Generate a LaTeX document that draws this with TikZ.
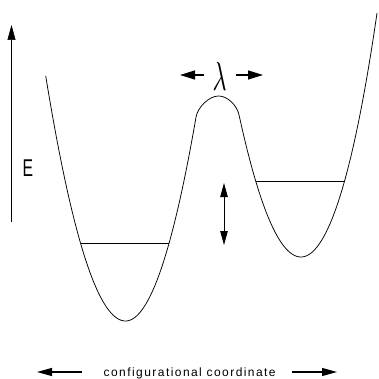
\documentclass[tikz,border=0pt]{standalone}
\usepackage{fontspec}
\usepackage{graphicx}
\setmainfont{Liberation Sans}
\usetikzlibrary{arrows.meta}
\tikzset{
  curve/.style={line width=0.75pt, line join=round},
  level/.style={line width=0.75pt},
  axis/.style={line width=0.6pt, -{Triangle[length=15pt,width=8pt]}},
  lamarrow/.style={line width=1.2pt, -{Triangle[length=15pt,width=9pt]}},
  botarrow/.style={line width=1.1pt, -{Triangle[length=15pt,width=8pt]}},
  dblarrow/.style={line width=0.8pt, {Triangle[length=14pt,width=7.5pt]}-{Triangle[length=14pt,width=7.5pt]}},
}
\begin{document}
\begin{tikzpicture}[x=1pt,y=-1pt]
\useasboundingbox (0,0) rectangle (378,379);
% potential curve
\draw[curve]
  plot[domain=45.7:125.5,samples=40,smooth] (\x,{321-0.0385*(\x-125.5)*(\x-125.5)})
  -- plot[domain=125.5:196,samples=40,smooth] (\x,{321-0.041*(\x-125.5)*(\x-125.5)})
  .. controls (197.7,107.2) and (209,96) .. (218.5,96)
  .. controls (228,96) and (237,105.8) .. (239,114.8)
  -- plot[domain=239:301,samples=40,smooth] (\x,{257-0.037*(\x-301)*(\x-301)})
  -- plot[domain=301:377,samples=40,smooth] (\x,{257-0.039*(\x-301)*(\x-301)-(0.000755*(\x-301)*(\x-301))*(0.000755*(\x-301)*(\x-301))});
% levels
\coordinate (L1a) at (80.5,243);
\coordinate (L1b) at (169.1,243);
\coordinate (L2a) at (255.7,181);
\coordinate (L2b) at (344.8,181);
\draw[level] (L1a) -- (L1b);
\draw[level] (L2a) -- (L2b);
% energy axis
\coordinate (Ebot) at (11.5,222);
\coordinate (Etop) at (11.5,25);
\draw[axis] (Ebot) -- (Etop);
\node[inner sep=0pt] (Elabel) at (27.8,168.3) {\resizebox{10.5pt}{16.7pt}{E}};
% lambda
\node[inner sep=0pt] (lam) at (219.5,76) {\resizebox{14pt}{28pt}{$\lambda$}};
\coordinate (laL0) at (204,75);
\coordinate (laL1) at (180,75);
\coordinate (laR0) at (236,75);
\coordinate (laR1) at (263,75);
\draw[lamarrow] (laL0) -- (laL1);
\draw[lamarrow] (laR0) -- (laR1);
% vertical double arrow
\coordinate (dT) at (224,183);
\coordinate (dB) at (224,245);
\draw[dblarrow] (dB) -- (dT);
% bottom label
\node[anchor=base, inner sep=0pt, font=\fontsize{12}{14}\selectfont\addfontfeature{LetterSpace=12}] (xlabel) at (189.7,376) {configurational coordinate};
\coordinate (bL0) at (82,372);
\coordinate (bL1) at (37,372);
\coordinate (bR0) at (292,372);
\coordinate (bR1) at (337,372);
\draw[botarrow] (bL0) -- (bL1);
\draw[botarrow] (bR0) -- (bR1);
\end{tikzpicture}
\end{document}
